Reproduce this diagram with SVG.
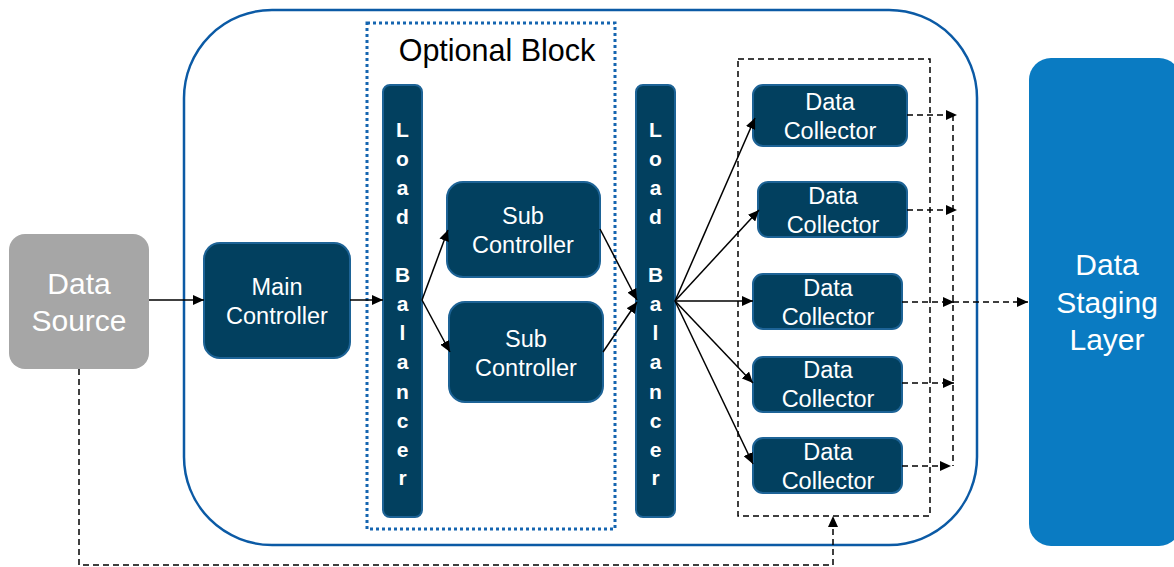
<svg xmlns="http://www.w3.org/2000/svg" width="1174" height="567" viewBox="0 0 1174 567">
<style>
.node{fill:#02405f;stroke:#1d6396;stroke-width:2}
.nt{fill:#fff;font-family:"Liberation Sans",Arial,sans-serif;font-size:23.5px;text-anchor:middle}
.lb{fill:#fff;font-family:"Liberation Sans",Arial,sans-serif;font-size:21px;font-weight:bold;text-anchor:middle}
.big{fill:#fff;font-family:"Liberation Sans",Arial,sans-serif;font-size:30px;text-anchor:middle}
.solid{stroke:#000;stroke-width:1.5;fill:none}
.dash{stroke:#000;stroke-width:1.5;fill:none;stroke-dasharray:6,4}
</style>
<defs>
<marker id="ah" markerUnits="userSpaceOnUse" markerWidth="11" markerHeight="10" refX="11" refY="5" orient="auto">
<path d="M0,0 L11,5 L0,10 z" fill="#000"/>
</marker>
</defs>
<g id="container">
<rect x="184" y="10" width="793" height="535" rx="88" ry="88" fill="none" stroke="#0b5aa5" stroke-width="2.5"/>
</g>
<g id="optional-block">
<rect x="367" y="23" width="248" height="506" fill="none" stroke="#1565b0" stroke-width="3" stroke-dasharray="3,3"/>
<text x="497" y="61" style="font-family:'Liberation Sans',Arial,sans-serif;font-size:30.5px;text-anchor:middle;fill:#000">Optional Block</text>
</g>
<g id="collector-group">
<rect x="738" y="59" width="192" height="457" fill="none" stroke="#000" stroke-width="1.5" stroke-dasharray="6,4"/>
</g>
<g id="data-source">
<rect x="9" y="234" width="140" height="135" rx="16" fill="#a6a6a6"/>
<text class="big" x="79" y="294">Data</text>
<text class="big" x="79" y="331">Source</text>
</g>
<g id="main-controller">
<rect class="node" x="204" y="243" width="146" height="115" rx="16"/>
<text class="nt" x="277" y="295">Main</text>
<text class="nt" x="277" y="324">Controller</text>
</g>
<g id="load-balancer-1">
<rect class="node" x="383" y="85" width="39" height="432" rx="7"/>
<text class="lb" x="402.5" y="137">L</text><text class="lb" x="402.5" y="166">o</text><text class="lb" x="402.5" y="195">a</text><text class="lb" x="402.5" y="224">d</text>
<text class="lb" x="402.5" y="282">B</text><text class="lb" x="402.5" y="311">a</text><text class="lb" x="402.5" y="340">l</text><text class="lb" x="402.5" y="369">a</text><text class="lb" x="402.5" y="399">n</text><text class="lb" x="402.5" y="428">c</text><text class="lb" x="402.5" y="457">e</text><text class="lb" x="402.5" y="485">r</text>
</g>
<g id="sub-controller-1">
<rect class="node" x="447" y="182" width="153" height="95" rx="16"/>
<text class="nt" x="523" y="224">Sub</text>
<text class="nt" x="523" y="253">Controller</text>
</g>
<g id="sub-controller-2">
<rect class="node" x="449" y="302" width="154" height="100" rx="16"/>
<text class="nt" x="526" y="347">Sub</text>
<text class="nt" x="526" y="376">Controller</text>
</g>
<g id="load-balancer-2">
<rect class="node" x="636" y="85" width="39" height="432" rx="7"/>
<text class="lb" x="655.5" y="137">L</text><text class="lb" x="655.5" y="166">o</text><text class="lb" x="655.5" y="195">a</text><text class="lb" x="655.5" y="224">d</text>
<text class="lb" x="655.5" y="282">B</text><text class="lb" x="655.5" y="311">a</text><text class="lb" x="655.5" y="340">l</text><text class="lb" x="655.5" y="369">a</text><text class="lb" x="655.5" y="399">n</text><text class="lb" x="655.5" y="428">c</text><text class="lb" x="655.5" y="457">e</text><text class="lb" x="655.5" y="485">r</text>
</g>
<g id="data-collector-1">
<rect class="node" x="753" y="85" width="154" height="61" rx="10"/>
<text class="nt" x="830" y="110">Data</text>
<text class="nt" x="830" y="139">Collector</text>
</g>
<g id="data-collector-2">
<rect class="node" x="758" y="182" width="149" height="55" rx="10"/>
<text class="nt" x="833" y="204">Data</text>
<text class="nt" x="833" y="233">Collector</text>
</g>
<g id="data-collector-3">
<rect class="node" x="753" y="274" width="149" height="55" rx="10"/>
<text class="nt" x="828" y="296">Data</text>
<text class="nt" x="828" y="325">Collector</text>
</g>
<g id="data-collector-4">
<rect class="node" x="753" y="357" width="149" height="55" rx="10"/>
<text class="nt" x="828" y="378">Data</text>
<text class="nt" x="828" y="407">Collector</text>
</g>
<g id="data-collector-5">
<rect class="node" x="753" y="438" width="149" height="55" rx="10"/>
<text class="nt" x="828" y="460">Data</text>
<text class="nt" x="828" y="489">Collector</text>
</g>
<g id="data-staging-layer">
<rect x="1029" y="58" width="152" height="488" rx="22" fill="#0a7bc2"/>
<text class="big" x="1107" y="275">Data</text>
<text class="big" x="1107" y="313">Staging</text>
<text class="big" x="1107" y="350">Layer</text>
</g>
<g id="connectors">
<line class="solid" x1="149" y1="300" x2="204" y2="300" marker-end="url(#ah)"/>
<line class="solid" x1="350" y1="300" x2="383" y2="300" marker-end="url(#ah)"/>
<line class="solid" x1="422" y1="300" x2="448" y2="230" marker-end="url(#ah)"/>
<line class="solid" x1="422" y1="300" x2="450" y2="352" marker-end="url(#ah)"/>
<line class="solid" x1="600" y1="229" x2="637" y2="300" marker-end="url(#ah)"/>
<line class="solid" x1="603" y1="352" x2="637" y2="302" marker-end="url(#ah)"/>
<line class="solid" x1="675" y1="301" x2="755" y2="118" marker-end="url(#ah)"/>
<line class="solid" x1="675" y1="301" x2="759" y2="210" marker-end="url(#ah)"/>
<line class="solid" x1="675" y1="301" x2="753" y2="301" marker-end="url(#ah)"/>
<line class="solid" x1="675" y1="301" x2="753" y2="383" marker-end="url(#ah)"/>
<line class="solid" x1="675" y1="301" x2="753" y2="464" marker-end="url(#ah)"/>
<line class="dash" x1="907" y1="115" x2="957" y2="115" marker-end="url(#ah)"/>
<line class="dash" x1="907" y1="210" x2="957" y2="210" marker-end="url(#ah)"/>
<line class="dash" x1="902" y1="302" x2="954" y2="302" marker-end="url(#ah)"/>
<line class="dash" x1="902" y1="383" x2="954" y2="383" marker-end="url(#ah)"/>
<line class="dash" x1="902" y1="466" x2="951" y2="466" marker-end="url(#ah)"/>
<line class="dash" x1="953" y1="115" x2="953" y2="466"/>
<line class="dash" x1="953" y1="302" x2="1028" y2="302" marker-end="url(#ah)"/>
<polyline class="dash" points="79,369 79,565 833,565 833,516" marker-end="url(#ah)"/>
</g>
</svg>
